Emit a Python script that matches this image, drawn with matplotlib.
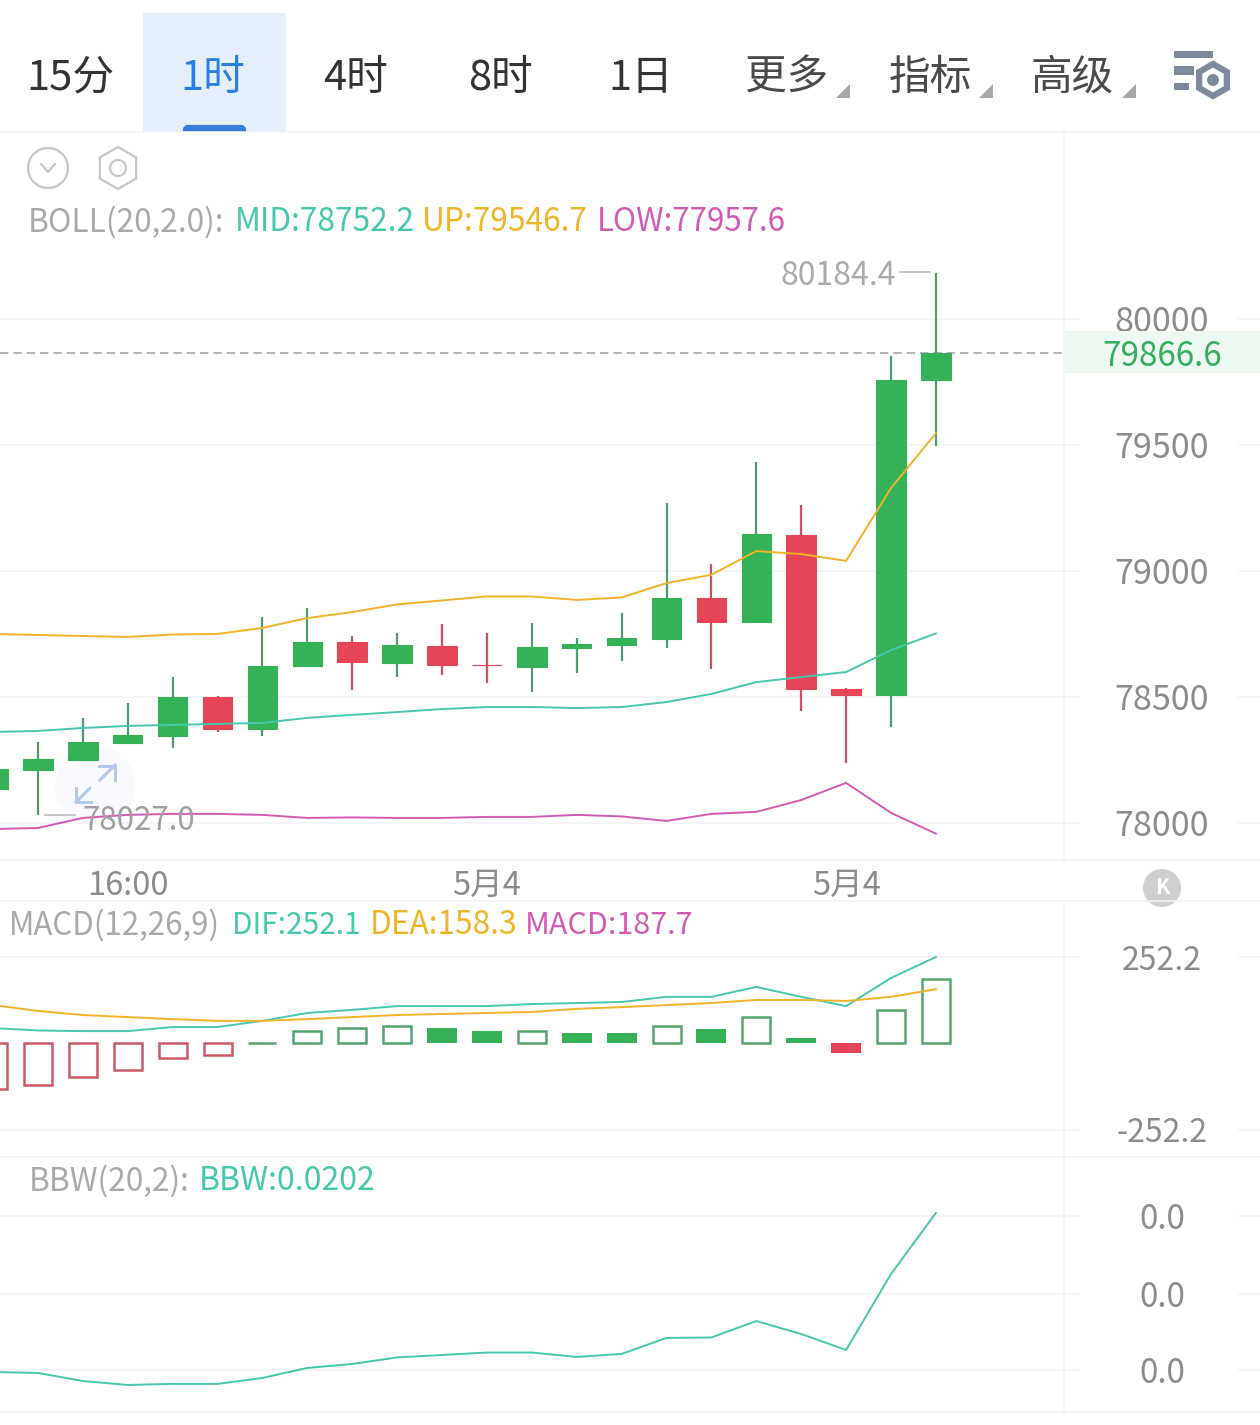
import numpy as np
import matplotlib
matplotlib.use('Agg')
import matplotlib.pyplot as plt
from matplotlib.patches import Rectangle, Circle, Polygon, RegularPolygon, FancyBboxPatch

plt.rcParams['font.family'] = ['Noto Sans CJK SC', 'DejaVu Sans']

# candles
opens = [78135, 78210, 78250, 78317, 78345, 78500, 78373, 78623, 78718, 78635, 78702,
         78627, 78619, 78694, 78706, 78730, 78893, 78798, 79143, 78532, 78508, 79758]
closes = [78214, 78254, 78321, 78349, 78500, 78373, 78623, 78718, 78639, 78706, 78627,
          78627, 78698, 78710, 78734, 78893, 78798, 79147, 78532, 78508, 79758, 79866.6]
highs = [78214, 78321, 78417, 78476, 78579, 78504, 78817, 78853, 78742, 78754, 78790,
         78754, 78794, 78734, 78833, 79270, 79028, 79432, 79262, 78536, 79853, 80184.4]
lows = [78135, 78032, 78250, 78317, 78298, 78361, 78345, 78623, 78528, 78579, 78587,
        78556, 78520, 78595, 78643, 78694, 78611, 78798, 78444, 78238, 78381, 79496]

# bollinger
boll_up = [78750, 78746, 78742, 78738, 78748, 78750, 78774, 78813, 78837, 78867, 78883,
           78899, 78899, 78885, 78895, 78952, 78985, 79079, 79067, 79040, 79329, 79546.7]
boll_mid = [78361, 78365, 78377, 78385, 78389, 78393, 78397, 78417, 78429, 78440, 78452,
            78460, 78460, 78456, 78460, 78480, 78512, 78559, 78579, 78599, 78686, 78752.2]
boll_low = [77976, 77980, 78020, 78032, 78036, 78036, 78032, 78020, 78022, 78020, 78020,
            78024, 78024, 78032, 78026, 78008, 78036, 78044, 78091, 78159, 78040, 77957.6]

# macd
hist = [-133, -120, -99, -76, -41, -35, 2, 35, 44, 52, 44,
        35, 36, 32, 31, 50, 41, 76, 15, -29, 99, 187.7]
dif = [45, 38, 36, 36, 48, 48, 66, 89, 98, 109, 109,
       109, 115, 118, 121, 136, 136, 165, 136, 109, 191, 252.1]
dea = [112, 95, 83, 77, 71, 66, 66, 71, 77, 83, 86,
       89, 92, 101, 106, 112, 118, 127, 127, 124, 136, 158.3]

# bbw
bbw = [0.00975, 0.00969, 0.00916, 0.0089, 0.00897, 0.00897, 0.00936, 0.01002, 0.01028, 0.01071, 0.01087,
       0.01103, 0.01103, 0.01074, 0.01094, 0.01199, 0.01202, 0.0131, 0.01225, 0.0112, 0.01619, 0.0202]

tabs = ['15分', '1时', '4时', '8时', '1日', '更多', '指标', '高级']
tab_x = [70, 213, 356, 500, 641, 787, 930, 1072]
time_pos = [3, 11, 19]
time_labels = ['16:00', '5月4', '5月4']
price_ticks = [78000, 78500, 79000, 79500, 80000]
macd_ticks = [-252.2, 252.2]
bbw_ticks = [0.0099, 0.0149, 0.02]

GREEN = '#35b158'
RED = '#e64557'
TEAL = '#45c8ac'
YELLOW = '#f0b429'
PINK = '#d45bb3'
GRID = '#f3f4f6'
LABEL = '#8c8c8c'
W, H = 1260, 1425
STEP = 44.9

x = np.arange(len(opens))


def px2i(px):
    return (px + 7) / STEP


fig = plt.figure(figsize=(12.6, 14.25), dpi=100, facecolor='white')

bg = fig.add_axes([0, 0, 1, 1], zorder=0)
bg.set_xlim(0, W)
bg.set_ylim(H, 0)
bg.axis('off')


def panel(top, bottom, ylim, ticks, labels, size=23):
    ax = fig.add_axes([0, 1 - bottom / H, 1, (bottom - top) / H], zorder=2)
    ax.patch.set_visible(False)
    ax.set_xlim(px2i(0), px2i(W))
    ax.set_ylim(*ylim)
    for s in ax.spines.values():
        s.set_visible(False)
    ax.yaxis.tick_right()
    ax.set_yticks(ticks)
    ax.set_yticklabels(labels, ha='center', fontsize=size, color=LABEL)
    ax.tick_params(axis='y', length=0, pad=-70.5)
    ax.set_xticks([])
    ax.hlines(ticks, px2i(0), px2i(1080), color=GRID, lw=1.2, zorder=0)
    ax.hlines(ticks, px2i(1238), px2i(W), color=GRID, lw=1.2, zorder=0)
    return ax


# main panel
ax1 = panel(132, 860, (77853, 80742), price_ticks, [str(t) for t in price_ticks], size=24.5)
colors = [GREEN if c > o else RED for o, c in zip(opens, closes)]
wicks = ['#4a9e68' if c > o else '#cf4f60' for o, c in zip(opens, closes)]
ax1.vlines(x, lows, highs, color=wicks, lw=1.6, zorder=2)
ax1.bar(x, np.array(closes) - np.array(opens), bottom=opens, width=29.5 / STEP,
        color=colors, edgecolor=colors, lw=0.8, zorder=3)
ax1.plot(x, boll_up, color=YELLOW, lw=1.4, zorder=4)
ax1.plot(x, boll_mid, color=TEAL, lw=1.4, zorder=4)
ax1.plot(x, boll_low, color=PINK, lw=1.4, zorder=4)
ax1.axhline(closes[-1], xmax=1065 / W, color='#a8a8a8', lw=1.2, ls=(0, (5, 3)), zorder=1)
ax1.set_xticks(time_pos)
ax1.set_xticklabels(time_labels, fontsize=23.5, color=LABEL)
ax1.tick_params(axis='x', length=0, pad=7)

# macd panel
ax2 = panel(902, 1157, (-331, 412.6), macd_ticks, ['-252.2', '252.2'])
for i, v in enumerate(hist):
    c = '#55a56f' if v >= 0 else '#c95a66'
    hollow = i == 0 or v >= hist[i - 1]
    if hollow:
        ax2.bar(i, v, width=28 / STEP, facecolor='white', edgecolor=c, lw=1.8, zorder=2)
    else:
        c = GREEN if v >= 0 else RED
        ax2.bar(i, v, width=30 / STEP, color=c, zorder=2)
ax2.plot(x, dif, color=TEAL, lw=1.4, zorder=3)
ax2.plot(x, dea, color=YELLOW, lw=1.4, zorder=3)

# bbw panel
ax3 = panel(1158, 1425, (0.00627, 0.02381), bbw_ticks, ['0.0', '0.0', '0.0'], size=24)
ax3.plot(x, bbw, color=TEAL, lw=1.4, zorder=3)

# frame lines
for y in [132, 860, 901, 1157, 1412]:
    bg.plot([0, W], [y, y], color=GRID, lw=1.2)
bg.plot([1064, 1064], [132, 860], color=GRID, lw=1.2)
bg.plot([1064, 1064], [902, 1412], color=GRID, lw=1.2)

# tab bar
bg.add_patch(Rectangle((143, 13), 143, 119, color='#e5effb', lw=0))
bg.add_patch(FancyBboxPatch((185, 127), 59, 8, boxstyle='round,pad=0,rounding_size=3', color='#3b7ddd', lw=3))
bg.add_patch(Rectangle((180, 132), 70, 10, color='white', lw=0, zorder=3))
for i, (t, tx) in enumerate(zip(tabs, tab_x)):
    c = '#2b7de0' if i == 1 else ('#333333' if i < 5 else '#4a4a4a')
    bg.text(tx, 78, t, fontsize=30, color=c, ha='center', va='center', weight='light')
for tx in [850, 993, 1136]:
    bg.add_patch(Polygon([(tx, 84), (tx, 98), (tx - 14, 98)], color='#a8a8a8', lw=0))

# settings icon
ICON = '#7e8a9c'
bg.add_patch(Rectangle((1174, 51), 39, 7, color=ICON, lw=0))
bg.add_patch(Rectangle((1174, 66), 20, 9, color=ICON, lw=0))
bg.add_patch(Rectangle((1174, 83), 15, 7, color=ICON, lw=0))
bg.add_patch(RegularPolygon((1213, 80), 6, radius=16, facecolor='white', edgecolor=ICON, lw=4.5))
bg.add_patch(Circle((1213, 80), 6, color=ICON, lw=0))

# small icons
bg.add_patch(Circle((48, 168), 20, facecolor='none', edgecolor='#c6c6c6', lw=1.6))
bg.plot([41, 48, 55], [164, 172, 164], color='#c6c6c6', lw=1.6)
bg.add_patch(RegularPolygon((118, 168), 6, radius=21, facecolor='none', edgecolor='#c6c6c6', lw=1.6))
bg.add_patch(Circle((118, 168), 8, facecolor='none', edgecolor='#c6c6c6', lw=1.6))

# expand icon
bg.add_patch(Circle((95, 785), 40, color='#f8fafe', lw=0))
for seg in [[(100, 780), (115, 765)], [(99, 766), (115, 766), (115, 780)],
            [(90, 788), (76, 802)], [(76, 788), (76, 802), (91, 802)]]:
    xs, ys = zip(*seg)
    bg.plot(xs, ys, color='#b2c9ee', lw=2.2)

# K button
bg.add_patch(Circle((1162, 888), 19, color='#cfcfcf', lw=0))
bg.text(1162, 887, 'K', fontsize=15, color='white', ha='center', va='center', weight='bold')


def legend(items, y):
    for t, tx, c, size in items:
        bg.text(tx, y, t, fontsize=size, color=c, ha='left', va='center')


legend([('BOLL(20,2.0):', 28, '#a9a9a9', 22.8), ('MID:78752.2', 235, TEAL, 22.8),
        ('UP:79546.7', 422, YELLOW, 22.8), ('LOW:77957.6', 597, PINK, 22.5)], 222)
legend([('MACD(12,26,9)', 9, '#a9a9a9', 22.5), ('DIF:252.1', 232, TEAL, 21.5),
        ('DEA:158.3', 370, YELLOW, 22.8), ('MACD:187.7', 525, PINK, 22)], 925)
legend([('BBW(20,2):', 29, '#a9a9a9', 22.8), ('BBW:0.0202', 199, TEAL, 23)], 1181)

# labels that sit over the candles
fg = fig.add_axes([0, 0, 1, 1], zorder=5)
fg.set_xlim(0, W)
fg.set_ylim(H, 0)
fg.axis('off')
fg.add_patch(Rectangle((1065, 331), 195, 42, color='#edf8f1', lw=0))
fg.text(1162, 356, '79866.6', fontsize=24, color='#35ad5e', ha='center', va='center')
fg.text(781, 276, '80184.4', fontsize=23, color='#aaaaaa', ha='left', va='center')
fg.plot([900, 930], [272, 272], color='#bbbbbb', lw=1.2)
fg.text(82, 821, '78027.0', fontsize=22.5, color='#a0a0a0', ha='left', va='center')
fg.plot([45, 75], [815, 815], color='#bbbbbb', lw=1.2)

fig.savefig('out.png', dpi=100)
